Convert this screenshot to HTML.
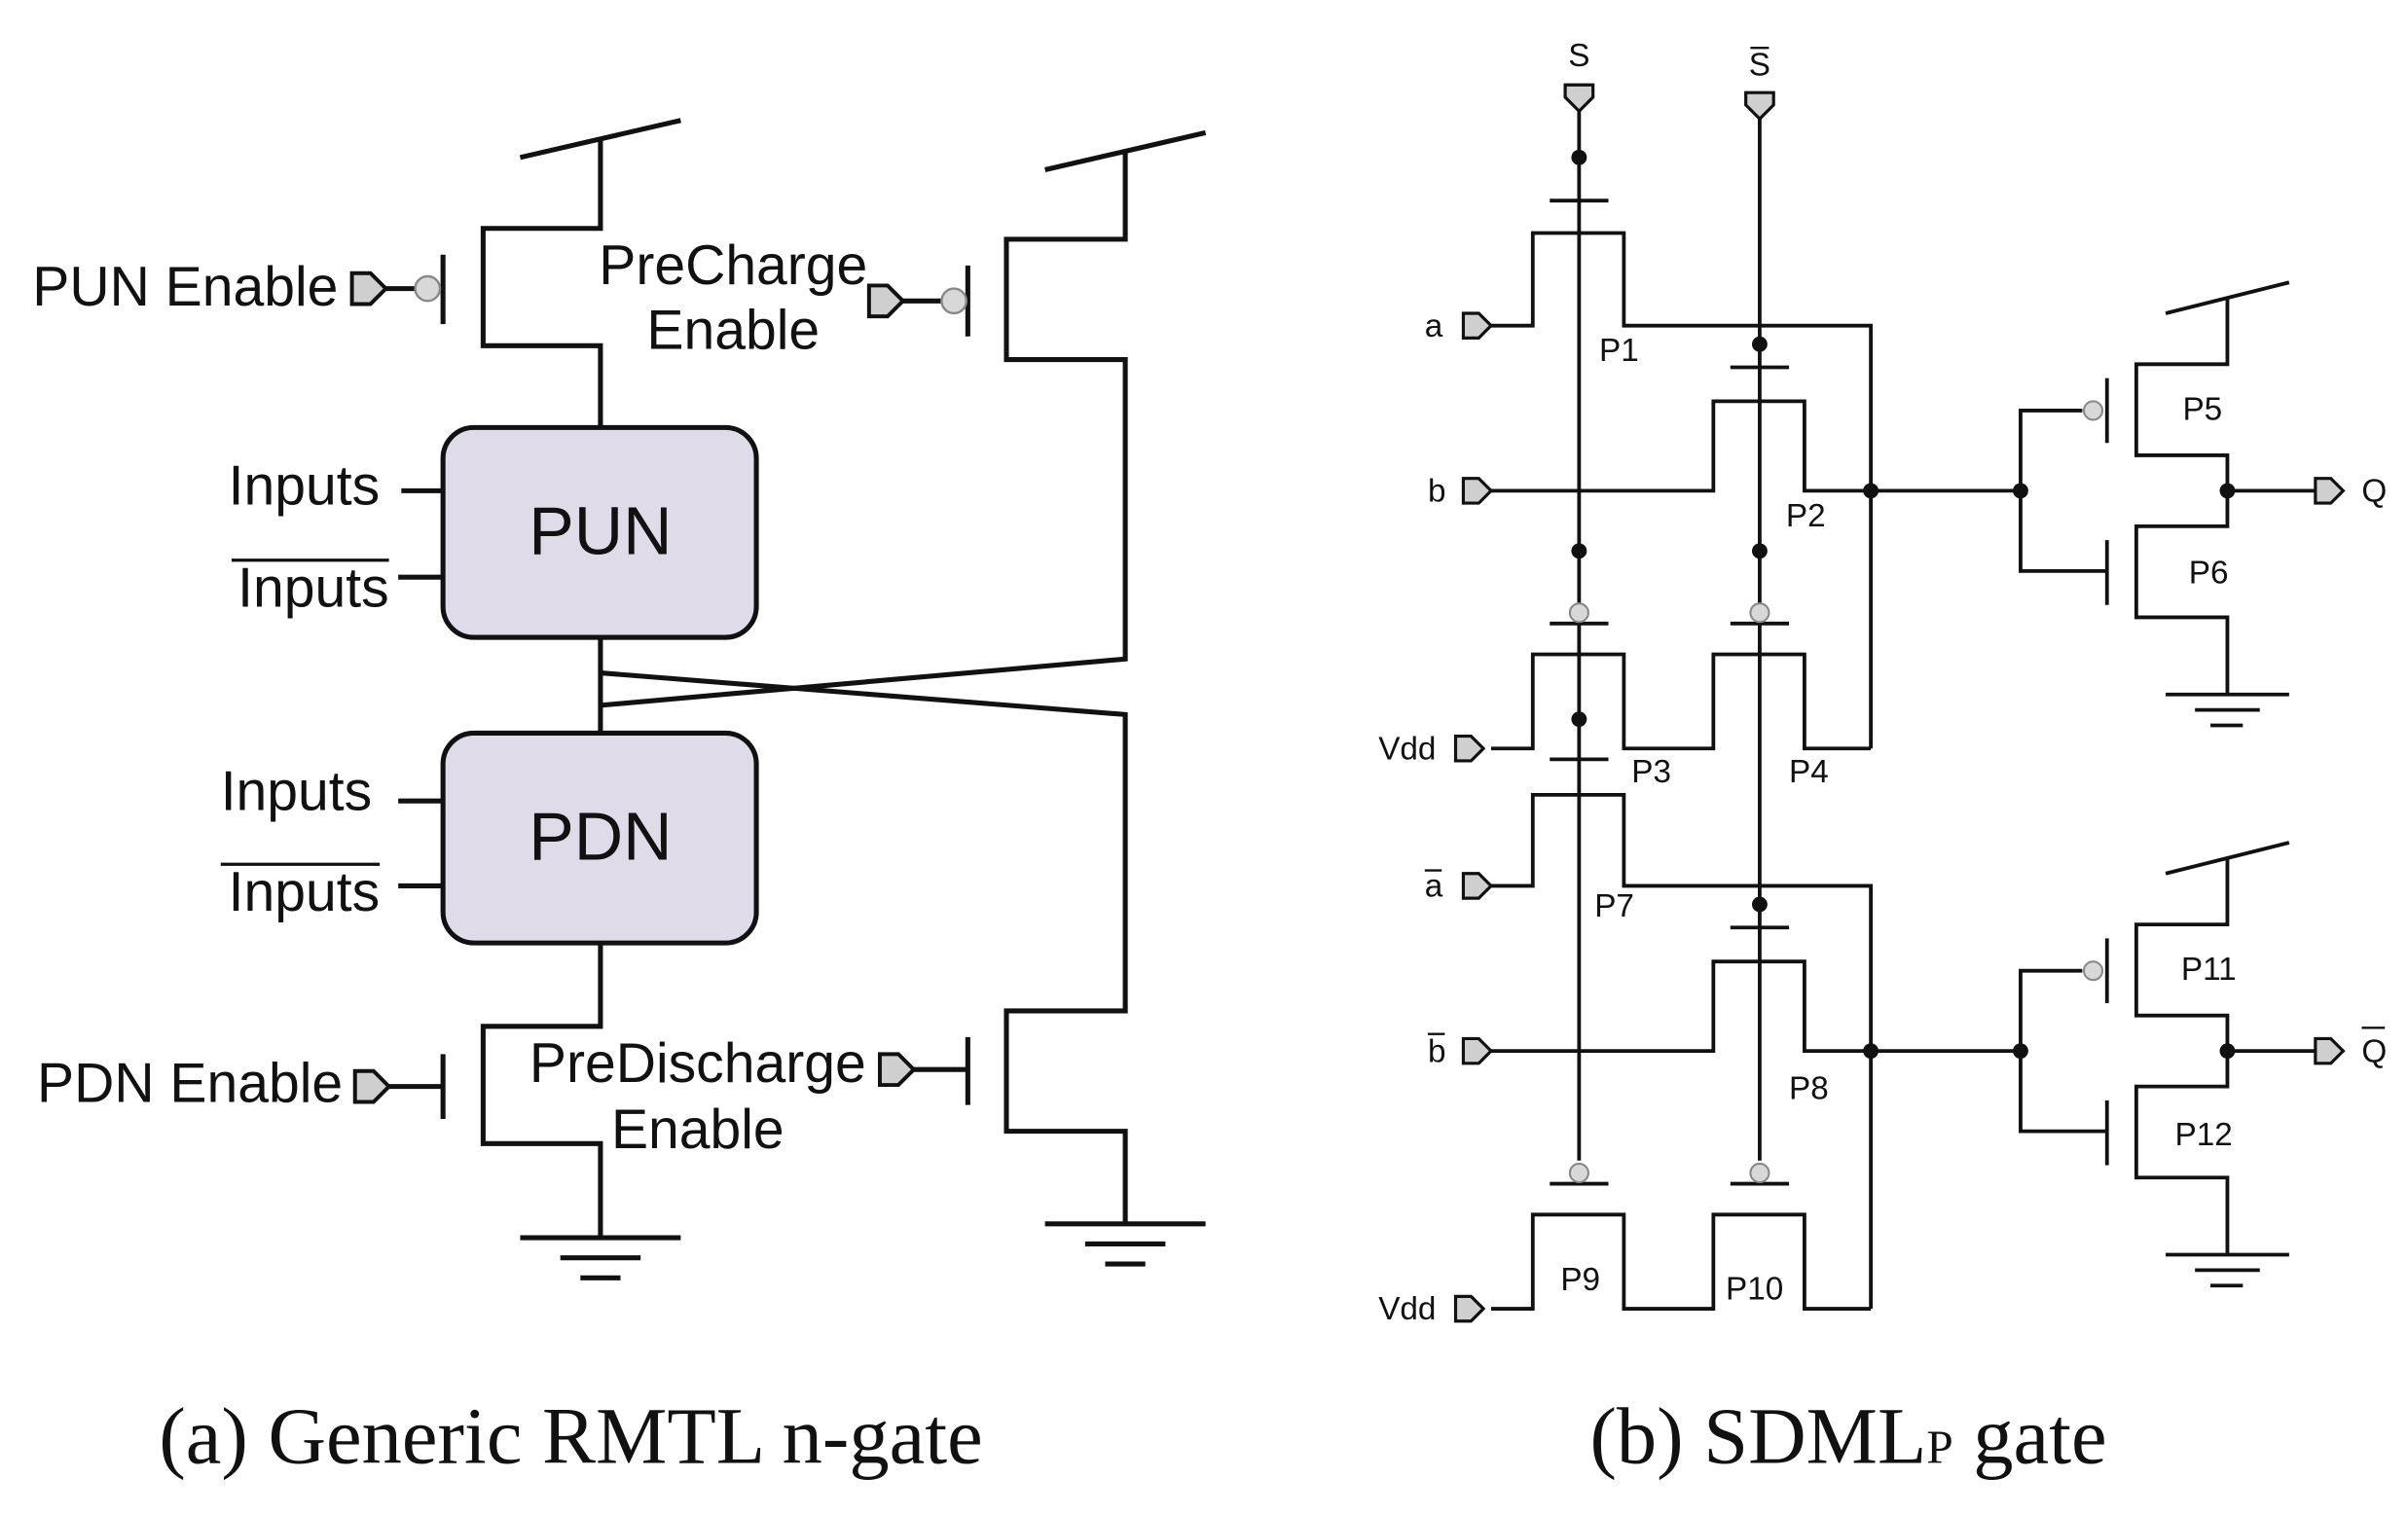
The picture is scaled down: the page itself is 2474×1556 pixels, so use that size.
<!DOCTYPE html>
<html><head><meta charset="utf-8"><style>
html,body{margin:0;padding:0;background:#fff;}
svg{display:block;}
</style></head><body>
<svg width="2474" height="1556" viewBox="0 0 1560 981" preserveAspectRatio="none" xmlns="http://www.w3.org/2000/svg">
<defs>
<g id="gnd"><line x1="-52" y1="0" x2="52" y2="0"/><line x1="-26" y1="13" x2="26" y2="13"/><line x1="-13" y1="26" x2="13" y2="26"/></g>
</defs>
<!-- LEFT -->
<g stroke="#111" stroke-width="3.2" fill="none" stroke-linejoin="miter">
<line x1="337" y1="102" x2="441" y2="78"/>
<polyline points="389,90 389,148 313,148 313,224 389,224 389,277"/>
<line x1="287" y1="165" x2="287" y2="210"/>
<line x1="250" y1="187" x2="270" y2="187"/>
<line x1="677" y1="110" x2="781" y2="86"/>
<polyline points="729,98 729,155 652,155 652,233 729,233 729,427 389,457"/>
<line x1="627" y1="172" x2="627" y2="218"/>
<line x1="585" y1="195" x2="611" y2="195"/>
<line x1="389" y1="413" x2="389" y2="475"/>
<polyline points="389,436 729,463 729,655 652,655 652,733 729,733 729,793"/>
<g transform="translate(729,793)"><use href="#gnd"/></g>
<rect x="287" y="277" width="203" height="136" rx="20" fill="#e0dbe8"/>
<rect x="287" y="475" width="203" height="136" rx="20" fill="#e0dbe8"/>
<line x1="260" y1="318" x2="287" y2="318"/>
<line x1="258" y1="374" x2="287" y2="374"/>
<line x1="258" y1="519" x2="287" y2="519"/>
<line x1="258" y1="574" x2="287" y2="574"/>
<polyline points="389,611 389,665 313,665 313,741 389,741 389,802"/>
<g transform="translate(389,802)"><use href="#gnd"/></g>
<line x1="287" y1="683" x2="287" y2="725"/>
<line x1="252" y1="704" x2="287" y2="704"/>
<line x1="627" y1="672" x2="627" y2="716"/>
<line x1="592" y1="693" x2="627" y2="693"/>
<line x1="150" y1="363" x2="252" y2="363" stroke-width="2"/>
<line x1="143" y1="560" x2="246" y2="560" stroke-width="2"/>
</g>
<g stroke="#111" stroke-width="2.5" fill="#cfcfcf">
<path d="M228,177 h12 l10,10 l-10,10 h-12 z"/>
<path d="M563,185 h12 l10,10 l-10,10 h-12 z"/>
<path d="M230,694 h12 l10,10 l-10,10 h-12 z"/>
<path d="M570,683 h12 l10,10 l-10,10 h-12 z"/>
</g>
<g stroke="#888" stroke-width="1.5" fill="#d8d8d8">
<circle cx="277" cy="187" r="8"/><circle cx="618" cy="195" r="8"/>
</g>
<g font-family="Liberation Sans, sans-serif" font-size="36" fill="#111">
<text x="21" y="198">PUN Enable</text>
<text x="24" y="714">PDN Enable</text>
<text x="475" y="184" text-anchor="middle">PreCharge</text>
<text x="475" y="226" text-anchor="middle">Enable</text>
<text x="452" y="701" text-anchor="middle">PreDischarge</text>
<text x="452" y="744" text-anchor="middle">Enable</text>
<text x="246" y="327" text-anchor="end">Inputs</text>
<text x="252" y="393" text-anchor="end">Inputs</text>
<text x="241" y="525" text-anchor="end">Inputs</text>
<text x="246" y="590" text-anchor="end">Inputs</text>
<text x="389" y="359" text-anchor="middle" font-size="44">PUN</text>
<text x="389" y="557" text-anchor="middle" font-size="44">PDN</text>
</g>
<text x="103" y="948" font-family="Liberation Serif, serif" font-size="52" fill="#111">(a) Generic RMTL n-gate</text>

<!-- RIGHT -->
<g stroke="#111" stroke-width="2.4" fill="none">
<line x1="1023" y1="72" x2="1023" y2="752"/>
<line x1="1140" y1="72" x2="1140" y2="752"/>
<line x1="1004" y1="130" x2="1042" y2="130"/>
<line x1="1121" y1="238" x2="1159" y2="238"/>
<line x1="1004" y1="404" x2="1042" y2="404"/>
<line x1="1121" y1="404" x2="1159" y2="404"/>
<line x1="1004" y1="492" x2="1042" y2="492"/>
<line x1="1121" y1="601" x2="1159" y2="601"/>
<line x1="1004" y1="767" x2="1042" y2="767"/>
<line x1="1121" y1="767" x2="1159" y2="767"/>
<polyline points="966,211 993,211 993,151 1052,151 1052,211 1212,211 1212,485"/>
<polyline points="966,318 1110,318 1110,260 1169,260 1169,318 1309,318"/>
<polyline points="966,485 993,485 993,424 1052,424 1052,485 1110,485 1110,424 1169,424 1169,485 1212,485"/>
<polyline points="966,574 993,574 993,515 1052,515 1052,574 1212,574 1212,848"/>
<polyline points="966,681 1110,681 1110,623 1169,623 1169,681 1309,681"/>
<polyline points="966,848 993,848 993,787 1052,787 1052,848 1110,848 1110,787 1169,787 1169,848 1212,848"/>
<g id="inv">
<polyline points="1349,266 1309,266 1309,370 1365,370"/>
<line x1="1365" y1="245" x2="1365" y2="287"/>
<line x1="1365" y1="350" x2="1365" y2="392"/>
<line x1="1403" y1="203" x2="1483" y2="183"/>
<polyline points="1443,193 1443,236 1384,236 1384,295 1443,295 1443,341 1384,341 1384,400 1443,400 1443,450"/>
<line x1="1443" y1="318" x2="1500" y2="318"/>
<line x1="1403" y1="450" x2="1483" y2="450"/>
<line x1="1422" y1="460" x2="1464" y2="460"/>
<line x1="1432" y1="470" x2="1453" y2="470"/>
</g>
<use href="#inv" transform="translate(0,363)"/>
</g>
<g fill="#111">
<circle cx="1023" cy="102" r="5"/><circle cx="1023" cy="357" r="5"/><circle cx="1023" cy="466" r="5"/>
<circle cx="1140" cy="223" r="5"/><circle cx="1140" cy="357" r="5"/><circle cx="1140" cy="586" r="5"/>
<circle cx="1212" cy="318" r="5"/><circle cx="1309" cy="318" r="5"/><circle cx="1443" cy="318" r="5"/>
<circle cx="1212" cy="681" r="5"/><circle cx="1309" cy="681" r="5"/><circle cx="1443" cy="681" r="5"/>
</g>
<g stroke="#888" stroke-width="1.3" fill="#d8d8d8">
<circle cx="1023" cy="397" r="6"/><circle cx="1140" cy="397" r="6"/>
<circle cx="1023" cy="760" r="6"/><circle cx="1140" cy="760" r="6"/>
<circle cx="1356" cy="266" r="6"/><circle cx="1356" cy="629" r="6"/>
</g>
<g stroke="#111" stroke-width="2" fill="#cfcfcf">
<path d="M1014,55 h18 v8 l-9,9 l-9,-9 z"/>
<path d="M1131,60 h18 v8 l-9,9 l-9,-9 z"/>
<path d="M948,203 h10 l8,8 l-8,8 h-10 z"/>
<path d="M948,310 h10 l8,8 l-8,8 h-10 z"/>
<path d="M943,477 h10 l8,8 l-8,8 h-10 z"/>
<path d="M948,566 h10 l8,8 l-8,8 h-10 z"/>
<path d="M948,673 h10 l8,8 l-8,8 h-10 z"/>
<path d="M943,840 h10 l8,8 l-8,8 h-10 z"/>
<path d="M1500,310 h10 l8,8 l-8,8 h-10 z"/>
<path d="M1500,673 h10 l8,8 l-8,8 h-10 z"/>
</g>
<g font-family="Liberation Sans, sans-serif" font-size="21" fill="#111">
<text x="1023" y="43" text-anchor="middle">S</text>
<text x="1140" y="49" text-anchor="middle">S</text>
<line x1="1134" y1="31" x2="1146" y2="31" stroke="#111" stroke-width="1.5"/>
<text x="923" y="218">a</text>
<text x="925" y="325">b</text>
<text x="893" y="492">Vdd</text>
<text x="923" y="581">a</text>
<line x1="923" y1="564" x2="934" y2="564" stroke="#111" stroke-width="1.5"/>
<text x="925" y="688">b</text>
<line x1="925" y1="670" x2="936" y2="670" stroke="#111" stroke-width="1.5"/>
<text x="893" y="855">Vdd</text>
<text x="1530" y="325">Q</text>
<text x="1530" y="688">Q</text>
<line x1="1530" y1="666" x2="1545" y2="666" stroke="#111" stroke-width="1.5"/>
<text x="1036" y="234">P1</text>
<text x="1157" y="341">P2</text>
<text x="1057" y="507">P3</text>
<text x="1159" y="507">P4</text>
<text x="1033" y="594">P7</text>
<text x="1159" y="712">P8</text>
<text x="1011" y="836">P9</text>
<text x="1118" y="842">P10</text>
<text x="1414" y="272">P5</text>
<text x="1418" y="378">P6</text>
<text x="1413" y="635">P11</text>
<text x="1409" y="742">P12</text>
</g>
<text x="1030" y="948" font-family="Liberation Serif, serif" font-size="52" fill="#111">(b) SDML<tspan font-size="31">P</tspan> gate</text>
</svg>
</body></html>
